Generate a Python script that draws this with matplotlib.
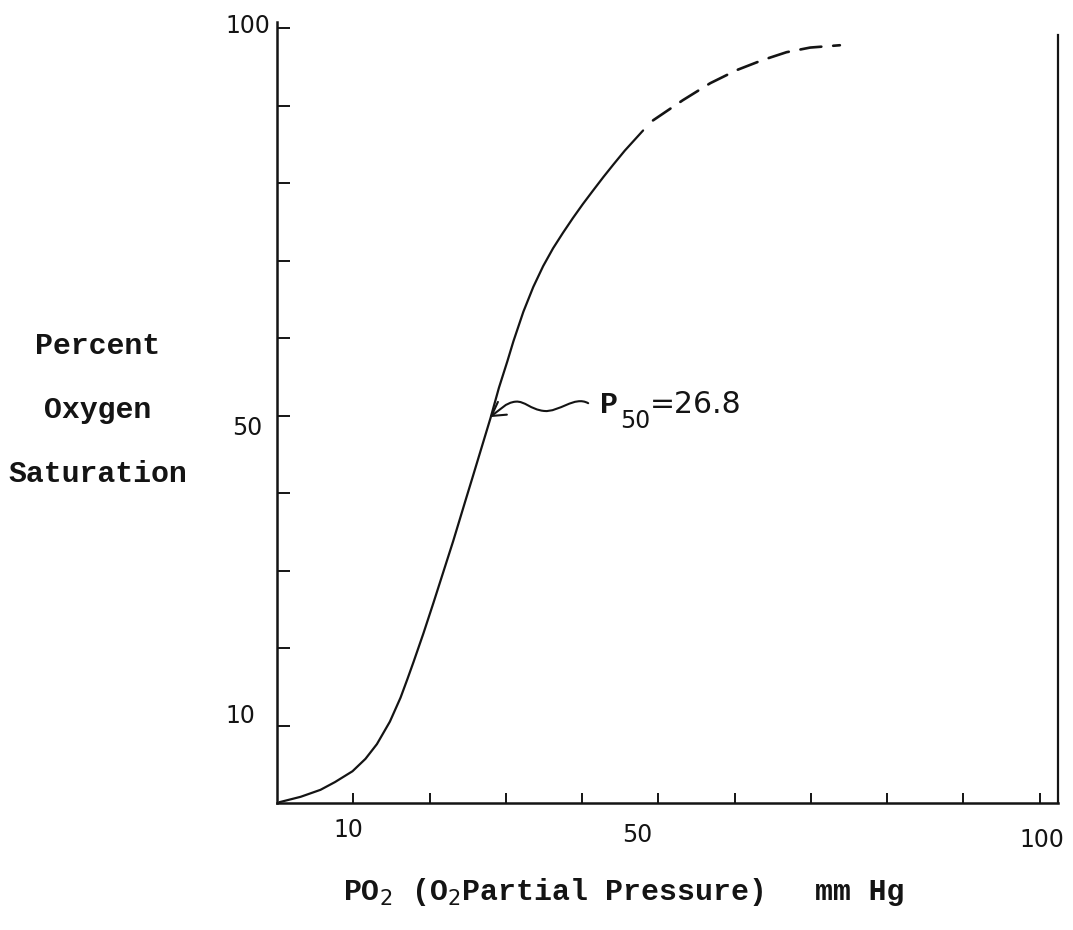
import matplotlib
matplotlib.use("Agg")
import matplotlib.pyplot as plt
from matplotlib.path import Path
from matplotlib.patches import FancyArrowPatch

# ---------------- data ----------------
po2_solid = [0.3, 3.1, 5.7, 7.6, 9.9, 11.6, 13.1, 14.8, 16.2, 17.1, 17.9,
             19.2, 20.5, 21.8, 23.1, 24.7, 25.6, 26.8, 28.0, 29.1, 30.2,
             31.0, 32.3, 33.6, 34.9, 36.2, 37.5, 38.8, 40.1, 41.4, 42.8,
             44.1, 45.6, 48.0]
sat_solid = [0.1, 0.8, 1.7, 2.7, 4.1, 5.7, 7.6, 10.5, 13.6, 16.0, 18.2,
             21.9, 25.8, 29.8, 33.8, 39.0, 41.9, 45.8, 49.7, 53.6, 57.0,
             59.6, 63.4, 66.6, 69.3, 71.6, 73.6, 75.5, 77.3, 79.0, 80.8,
             82.4, 84.2, 86.8]

po2_dashed = [49.3, 53.2, 56.8, 60.3, 63.7, 66.8, 69.9, 73.8]
sat_dashed = [88.1, 90.7, 92.9, 94.6, 95.9, 96.9, 97.5, 97.8]

x_ticks = [10, 20, 30, 40, 50, 60, 70, 80, 90, 100]
y_ticks = [10, 20, 30, 40, 50, 60, 70, 80, 90, 100]
x_labelled = [10, 50, 100]
y_labelled = [10, 50, 100]

p50_text = "26.8"
# wavy annotation arrow (data coords): start near text -> tip on curve
arrow_start = (40.8, 51.6)
arrow_tip = (27.9, 49.8)

# ---------------- style ----------------
W, H, DPI = 1073, 930, 100
MONO = "Liberation Mono"
SANS = "DejaVu Sans"
INK = "#141414"
plt.rcParams["mathtext.fontset"] = "custom"
plt.rcParams["mathtext.rm"] = SANS
plt.rcParams["mathtext.it"] = SANS + ":italic"
plt.rcParams["mathtext.bf"] = SANS + ":bold"

fig = plt.figure(figsize=(W / DPI, H / DPI), dpi=DPI, facecolor="white")
ax = fig.add_axes([277 / W, 1 - 803 / H, (1058 - 277) / W, (803 - 22) / H])
ax.set_facecolor("white")
ax.set_xlim(0, 102.4)
ax.set_ylim(0, 100.8)

ax.plot(po2_solid, sat_solid, color=INK, lw=1.6, solid_capstyle="round",
        solid_joinstyle="round")
ax.plot(po2_dashed, sat_dashed, color=INK, lw=1.9, dashes=(8, 4.5),
        dash_capstyle="round")

# spines
ax.spines["top"].set_visible(False)
for s in ("left", "bottom"):
    ax.spines[s].set_linewidth(1.8)
    ax.spines[s].set_color(INK)
ax.spines["right"].set_linewidth(1.6)
ax.spines["right"].set_color(INK)
ax.spines["right"].set_bounds(0, 99.1)

ax.set_xticks(x_ticks)
ax.set_yticks(y_ticks)
ax.set_xticklabels([])
ax.set_yticklabels([])
ax.tick_params(axis="x", direction="in", length=7, width=1.4, color=INK)
ax.tick_params(axis="y", direction="in", length=9.5, width=1.4, color=INK)
ax.tick_params(top=False, right=False)

# tick labels placed individually (hand-lettered look, uneven offsets)
x_off = {10: (-5, -27), 50: (-21, -32), 100: (2, -37)}
y_off = {100: (-7, 2), 50: (-15, -12.5), 10: (-22, 9.5)}
for t in x_labelled:
    ax.annotate(str(t), xy=(t, 0), xytext=x_off[t], textcoords="offset pixels",
                ha="center", va="center", family=SANS, fontsize=17, color=INK,
                annotation_clip=False)
for t in y_labelled:
    ax.annotate(str(t), xy=(0, t), xytext=y_off[t], textcoords="offset pixels",
                ha="right", va="center", family=SANS, fontsize=17, color=INK,
                annotation_clip=False)

# axis titles (typewriter)
def fx(px):
    return px / W

def fy(py):
    return 1 - py / H

for txt, py in (("Percent", 346), ("Oxygen", 410), ("Saturation", 474)):
    fig.text(fx(98), fy(py), txt, ha="center", va="center", family=MONO,
             fontsize=21.5, weight="bold", color=INK)

fig.text(fx(343), fy(900), "PO$_2$ (O$_2$Partial Pressure)", ha="left",
         va="baseline", family=MONO, fontsize=21.5, weight="bold", color=INK)
fig.text(fx(815), fy(900), "mm Hg", ha="left", va="baseline", family=MONO,
         fontsize=21.5, weight="bold", color=INK)

# P50 annotation
fig.text(fx(600), fy(413), "P", ha="left", va="baseline", family=MONO,
         fontsize=21.5, weight="bold", color=INK)
fig.text(fx(620), fy(428), "50", ha="left", va="baseline", family=SANS,
         fontsize=17, color=INK)
fig.text(fx(650), fy(413), "=" + p50_text, ha="left", va="baseline", family=SANS,
         fontsize=21.5, color=INK)

sx, sy = arrow_start
tx, ty = arrow_tip
verts = [
    (sx, sy),
    (sx - 1.8, sy + 1.0), (sx - 3.8, sy - 1.2), (sx - 5.8, sy - 1.0),
    (sx - 7.6, sy - 0.8), (sx - 8.3, sy + 0.3), (sx - 9.5, sy + 0.2),
    (sx - 10.8, sy + 0.1), (tx + 1.3, ty + 0.9), (tx, ty),
]
codes = [Path.MOVETO] + [Path.CURVE4] * 9
arrow = FancyArrowPatch(path=Path(verts, codes),
                        arrowstyle="->,head_length=0.6,head_width=0.35",
                        mutation_scale=16, lw=1.5, color=INK,
                        transform=ax.transData)
ax.add_patch(arrow)

fig.savefig("out.png", dpi=DPI, facecolor="white")
